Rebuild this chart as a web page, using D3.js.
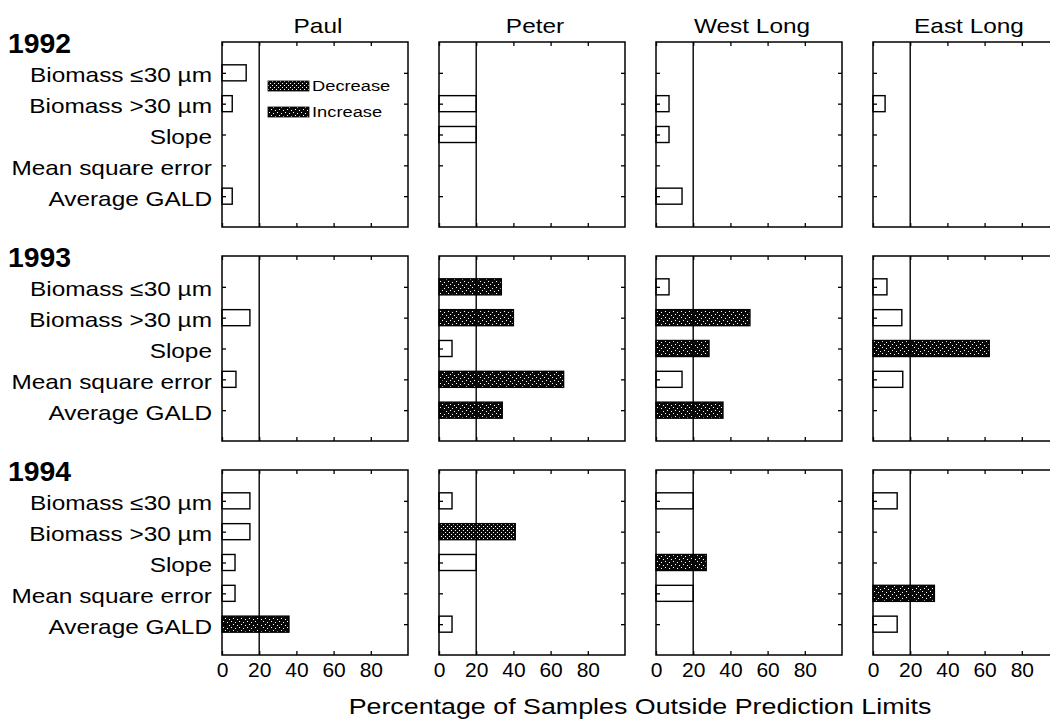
<!DOCTYPE html>
<html>
<head>
<meta charset="utf-8">
<script src="https://cdn.jsdelivr.net/npm/d3@7"></script>
<style>
  body { margin: 0; background: #fff; }
  svg { display: block; font-family: "Liberation Sans", Arial, Helvetica, sans-serif; }
</style>
</head>
<body>
<svg id="chart" width="1050" height="720"></svg>
<script>
const sites = ["Paul", "Peter", "West Long", "East Long"];
const years = ["1992", "1993", "1994"];
const metrics = ["Biomass ≤30 µm", "Biomass >30 µm", "Slope", "Mean square error", "Average GALD"];
const xTicks = [0, 20, 40, 60, 80];
const limitLine = 20;

// % of samples outside prediction limits; one row per site, one column per metric
const pct1992 = [
    [13, 5.5, 0, 0, 5.5],
    [0, 20, 20, 0, 0],
    [0, 7, 7, 0, 14],
    [0, 6.5, 0, 0, 0]
];
const pct1993 = [
    [0, 15, 0, 7.5, 0],
    [33.5, 40, 7, 67, 34],
    [7, 50.5, 28.5, 14, 36],
    [7.5, 15.5, 62.5, 16, 0]
];
const pct1994 = [
    [15, 15, 7, 7, 36],
    [7, 41, 20, 0, 7],
    [20, 0, 27, 20, 0],
    [13, 0, 0, 33, 13]
];

// "" = open bar, "inc" = increase, "dec" = decrease
const dir1992 = [
    ["", "", "", "", ""],
    ["", "", "", "", ""],
    ["", "", "", "", ""],
    ["", "", "", "", ""]
];
const dir1993 = [
    ["", "", "", "", ""],
    ["inc", "inc", "", "inc", "inc"],
    ["", "inc", "inc", "", "inc"],
    ["", "", "inc", "", ""]
];
const dir1994 = [
    ["", "", "", "", "inc"],
    ["", "dec", "", "", ""],
    ["", "", "inc", "", ""],
    ["", "", "", "inc", ""]
];

const pctByYear = [pct1992, pct1993, pct1994];
const dirByYear = [dir1992, dir1993, dir1994];

const panelW = 186;
const panelH = 185;
const left0 = 222;
const top0 = 42;
const colStep = 217;
const rowStep = 214;
const stretch = 1.22;   // the original lettering is wide

const svg = d3.select("#chart");

// wide text: placed with translate, then stretched horizontally
function wideText(parent, x, y, s, txt) {
    return parent.append("text")
        .attr("transform", `translate(${x},${y}) scale(${s},1)`)
        .text(txt);
}

// fill patterns
const defs = svg.append("defs");
const inc = defs.append("pattern")
    .attr("id", "inc")
    .attr("patternUnits", "userSpaceOnUse")
    .attr("width", 8).attr("height", 6);
inc.append("rect").attr("width", 8).attr("height", 6).attr("fill", "#0a0a0a");
[[1, 1], [5, 2], [3, 4], [7, 5]].forEach(p => {
    inc.append("rect").attr("x", p[0]).attr("y", p[1]).attr("width", 1).attr("height", 1).attr("fill", "#fff");
});
const dec = defs.append("pattern")
    .attr("id", "dec")
    .attr("patternUnits", "userSpaceOnUse")
    .attr("width", 4).attr("height", 4);
dec.append("rect").attr("width", 4).attr("height", 4).attr("fill", "#0a0a0a");
[[0, 0], [2, 2]].forEach(p => {
    dec.append("rect").attr("x", p[0]).attr("y", p[1]).attr("width", 1).attr("height", 1).attr("fill", "#fff");
});

const fillFor = d => d.dir === "inc" ? "url(#inc)" : d.dir === "dec" ? "url(#dec)" : "#fff";

const x = d3.scaleLinear().domain([0, 100]).range([0, panelW]);
const y = d3.scalePoint().domain(metrics).range([0, panelH]).padding(1);
const barH = y.step() * 0.52;

years.forEach((year, yi) => {
    const py = top0 + yi * rowStep;

    wideText(svg, 8, py + 11, 1.05, year)
        .attr("font-size", 27)
        .attr("font-weight", "bold");

    sites.forEach((site, si) => {
        const px = left0 + si * colStep;
        const g = svg.append("g").attr("transform", `translate(${px},${py})`);

        const rows = metrics.map((m, k) => ({
            metric: m,
            value: pctByYear[yi][si][k],
            dir: dirByYear[yi][si][k]
        })).filter(d => d.value > 0);

        g.selectAll("rect.bar")
            .data(rows)
            .enter()
            .append("rect")
            .attr("class", "bar")
            .attr("x", x(0))
            .attr("y", d => y(d.metric) - barH / 2)
            .attr("width", d => x(d.value) - x(0))
            .attr("height", barH)
            .attr("fill", fillFor)
            .attr("stroke", "#000")
            .attr("stroke-width", 1.4);

        // 20% limit line
        g.append("line")
            .attr("x1", x(limitLine)).attr("x2", x(limitLine))
            .attr("y1", 0).attr("y2", panelH)
            .attr("stroke", "#000")
            .attr("stroke-width", 1.4);

        const bottom = d3.axisBottom(x).tickValues(xTicks)
            .tickSizeInner(-4).tickSizeOuter(0).tickPadding(7)
            .tickFormat(yi === years.length - 1 ? d3.format("d") : "");
        g.append("g")
            .attr("transform", `translate(0,${panelH})`)
            .call(bottom)
            .call(a => a.select(".domain").remove())
            .call(a => a.selectAll("text").attr("font-size", 21).attr("fill", "#000"));

        g.append("g")
            .call(d3.axisTop(x).tickValues(xTicks).tickSizeInner(-4).tickSizeOuter(0).tickFormat(""))
            .call(a => a.select(".domain").remove());

        g.append("g")
            .call(d3.axisLeft(y).tickSizeInner(-4).tickSizeOuter(0)
                .tickFormat(si === 0 ? d => d : ""))
            .call(a => a.select(".domain").remove())
            .call(a => a.selectAll("text")
                .attr("font-size", 20)
                .attr("fill", "#000")
                .attr("x", -10 / stretch)
                .attr("dy", "0.45em")
                .attr("transform", `scale(${stretch},1)`));

        g.append("g")
            .attr("transform", `translate(${panelW},0)`)
            .call(d3.axisRight(y).tickSizeInner(-4).tickSizeOuter(0).tickFormat(""))
            .call(a => a.select(".domain").remove());

        g.selectAll(".tick line").attr("stroke", "#000").attr("stroke-width", 1.3);

        g.append("rect")
            .attr("width", panelW)
            .attr("height", panelH)
            .attr("fill", "none")
            .attr("stroke", "#000")
            .attr("stroke-width", 1.5);

        if (yi === 0) {
            wideText(svg, px + panelW / 2 + 3, py - 9, stretch, site)
                .attr("text-anchor", "middle")
                .attr("font-size", 20);
        }

        // legend sits inside the first panel
        if (yi === 0 && si === 0) {
            const legend = g.append("g").attr("transform", "translate(46,39)");
            [["dec", "Decrease"], ["inc", "Increase"]].forEach((item, i) => {
                legend.append("rect")
                    .attr("x", 0).attr("y", i * 26)
                    .attr("width", 41).attr("height", 10)
                    .attr("fill", `url(#${item[0]})`)
                    .attr("stroke", "#000").attr("stroke-width", 0.8);
                wideText(legend, 44, i * 26 + 10, stretch, item[1])
                    .attr("font-size", 15);
            });
        }
    });
});

wideText(svg, 640, 714, stretch, "Percentage of Samples Outside Prediction Limits")
    .attr("text-anchor", "middle")
    .attr("font-size", 22);
</script>
</body>
</html>
